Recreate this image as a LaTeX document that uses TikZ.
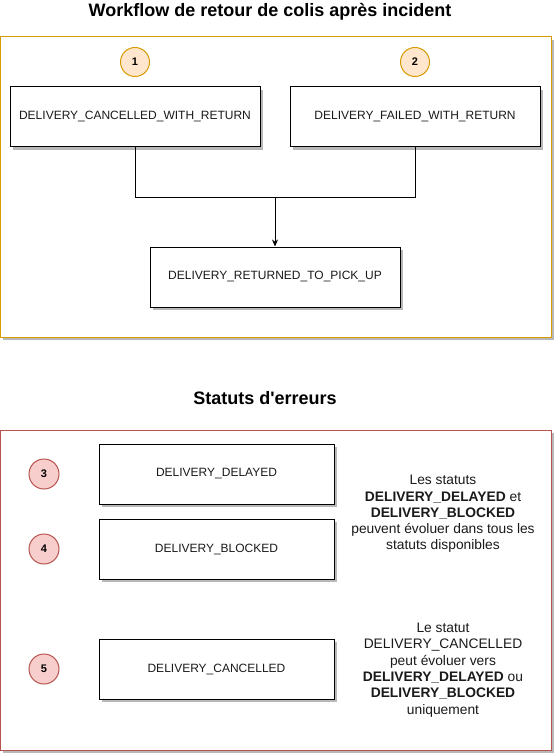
\documentclass[tikz,border=0pt]{standalone}
\usepackage{fontspec}
\setmainfont{Liberation Sans}[Ligatures=TeXOff]
\usetikzlibrary{shadows,arrows.meta}
\definecolor{orangeS}{HTML}{D79B00}
\definecolor{orangeF}{HTML}{FFE6CC}
\definecolor{redS}{HTML}{B85450}
\definecolor{redF}{HTML}{F8CECC}
\definecolor{txt}{HTML}{1A1A1A}
\tikzset{
  shad/.style={drop shadow={shadow xshift=3pt, shadow yshift=-3pt, fill=black!28, opacity=1}},
  panel/.style={draw, fill=white, line width=1pt, shad},
  statebox/.style={draw=black, fill=white, line width=1pt, shad, minimum height=60pt, inner sep=0pt, text=txt, font=\fontsize{12}{14}\selectfont},
  numo/.style={circle, draw=orangeS, fill=orangeF, line width=1pt, minimum size=29pt, inner sep=0pt, font=\bfseries\fontsize{11}{13}\selectfont},
  numr/.style={circle, draw=redS, fill=redF, line width=1pt, minimum size=30pt, inner sep=0pt, font=\bfseries\fontsize{11}{13}\selectfont},
  ttl/.style={font=\bfseries\fontsize{18}{21}\selectfont, inner sep=0pt},
  note/.style={align=center, text=txt, font=\fontsize{13.8}{16.3}\selectfont, inner sep=0pt},
  conn/.style={draw=black, line width=1pt}
}
\begin{document}
\begin{tikzpicture}[x=1pt,y=-1pt]
\useasboundingbox (0,0) rectangle (554,754);
% titles
\node[ttl] (t1) at (270,12) {Workflow de retour de colis après incident};
\node[ttl] (t2) at (265,398) {Statuts d'erreurs};
% panels
\node[panel, draw=orangeS, minimum width=551pt, minimum height=300pt, inner sep=0pt] (p1) at (275.5,187) {};
\node[panel, draw=redS, minimum width=551pt, minimum height=320pt, inner sep=0pt] (p2) at (275.5,590) {};
% top workflow
\node[numo] (c1) at (135,62) {1};
\node[numo] (c2) at (415,62) {2};
\node[statebox, minimum width=250pt] (b1) at (135,117) {DELIVERY\_CANCELLED\_WITH\_RETURN};
\node[statebox, minimum width=250pt] (b2) at (415,117) {DELIVERY\_FAILED\_WITH\_RETURN};
\node[statebox, minimum width=250pt] (b3) at (275,277) {DELIVERY\_RETURNED\_TO\_PICK\_UP};
\coordinate (j) at (275,197);
\draw[conn] (b1.south) |- (j);
\draw[conn] (b2.south) |- (j);
\draw[conn, -{Stealth[length=7pt,width=6pt]}] (j) -- (b3.north);
% bottom
\node[numr] (c3) at (44,474) {3};
\node[numr] (c4) at (44,549) {4};
\node[numr] (c5) at (44,669) {5};
\node[statebox, minimum width=235pt] (d1) at (216.5,474) {DELIVERY\_DELAYED};
\node[statebox, minimum width=235pt] (d2) at (216.5,549) {DELIVERY\_BLOCKED};
\node[statebox, minimum width=235pt] (d3) at (216.5,669) {DELIVERY\_CANCELLED};
\node[note] (n1) at (443,514) {Les statuts\\\textbf{DELIVERY\_DELAYED} et\\\textbf{DELIVERY\_BLOCKED}\\peuvent évoluer dans tous les\\statuts disponibles};
\node[note] (n2) at (443,670) {Le statut\\DELIVERY\_CANCELLED\\peut évoluer vers\\\textbf{DELIVERY\_DELAYED} ou\\\textbf{DELIVERY\_BLOCKED}\\uniquement};
\end{tikzpicture}
\end{document}
